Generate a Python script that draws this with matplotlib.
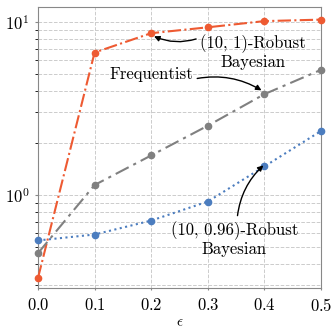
import numpy as np
import matplotlib.pyplot as plt

plt.rcParams['font.family'] = 'serif'
plt.rcParams['font.serif'] = ['cmr10']
plt.rcParams['mathtext.fontset'] = 'cm'
plt.rcParams['axes.formatter.use_mathtext'] = True

# epsilon values
eps = [0.0, 0.1, 0.2, 0.3, 0.4, 0.5]

# error for each estimator
robust_10_1 = [0.33, 6.65, 8.6, 9.3, 10.1, 10.3]
frequentist = [0.46, 1.14, 1.69, 2.51, 3.82, 5.28]
robust_10_096 = [0.545, 0.59, 0.71, 0.915, 1.46, 2.34]

fig = plt.figure(figsize=(3.33, 3.29), dpi=100)
ax = fig.add_axes([0.114, 0.125, 0.85, 0.854])

ax.plot(eps, robust_10_1, color='#EE5A32', linestyle='-.', marker='o', ms=4.5,
        lw=1.5, clip_on=False, zorder=3)
ax.plot(eps, frequentist, color='#808080', linestyle=(0, (7, 2.5, 1.5, 2.5)),
        marker='o', ms=4.5, lw=1.5, clip_on=False, zorder=3)
ax.plot(eps, robust_10_096, color='#4C7DBF', linestyle=':', marker='o', ms=4.5,
        lw=1.5, clip_on=False, zorder=3)

ax.set_yscale('log')
ax.set_xlim(0, 0.5)
ax.set_ylim(0.29, 12.2)
ax.set_xticks(eps)
ax.set_xlabel(r'$\epsilon$', fontsize=11, labelpad=1)

ax.grid(True, which='major', linestyle='--', color='#cccccc', lw=0.7)
ax.grid(True, which='minor', axis='y', linestyle='--', color='#cccccc', lw=0.7)
ax.tick_params(labelsize=12, color='#888888')
ax.tick_params(axis='x', length=1.5, pad=5)
ax.tick_params(axis='y', which='major', length=2.5)
ax.tick_params(axis='y', which='minor', length=2)
for s in ax.spines.values():
    s.set_color('#888888')

# annotations
ax.annotate('(10, 1)-Robust\nBayesian', xy=(0.205, 8.25), xytext=(0.38, 6.7),
            fontsize=12, ha='center', va='center', linespacing=1.15,
            arrowprops=dict(arrowstyle='-|>', color='black', lw=1.0,
                            connectionstyle='arc3,rad=-0.2', shrinkA=1, shrinkB=0,
                            relpos=(0.0, 0.9), mutation_scale=8))
ax.annotate('Frequentist', xy=(0.397, 3.98), xytext=(0.2, 4.95),
            fontsize=12, ha='center', va='center',
            arrowprops=dict(arrowstyle='-|>', color='black', lw=1.0,
                            connectionstyle='arc3,rad=-0.2', shrinkA=1, shrinkB=1,
                            relpos=(1.0, 0.2), mutation_scale=8))
ax.annotate('(10, 0.96)-Robust\nBayesian', xy=(0.4, 1.5), xytext=(0.347, 0.555),
            fontsize=12, ha='center', va='center', linespacing=1.15,
            arrowprops=dict(arrowstyle='-|>', color='black', lw=1.0,
                            connectionstyle='arc3,rad=-0.2', shrinkA=2, shrinkB=1,
                            relpos=(0.52, 1.0), mutation_scale=8))

fig.savefig('out.png', dpi=100)
